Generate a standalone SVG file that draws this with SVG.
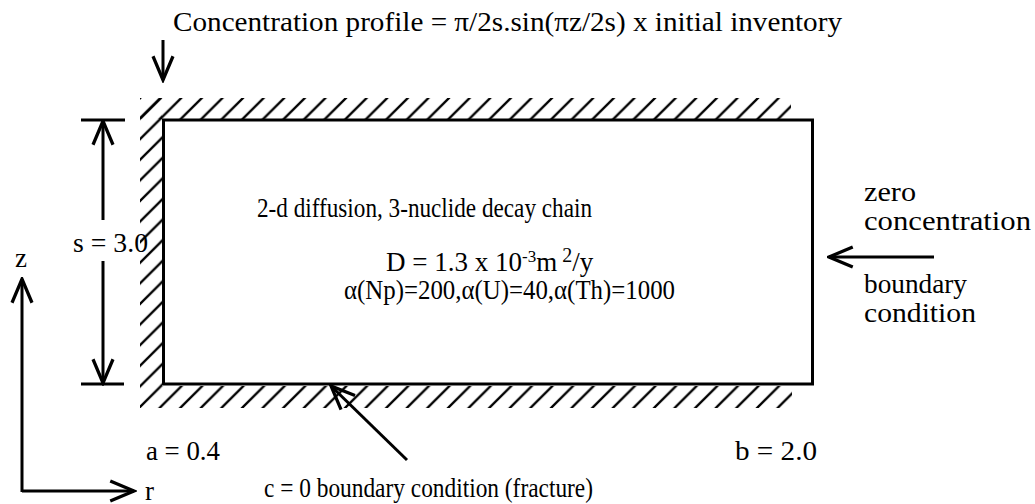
<svg xmlns="http://www.w3.org/2000/svg" width="1035" height="504" viewBox="0 0 1035 504">
<style>
text{font-family:"Liberation Serif","Times New Roman",serif;font-size:27px;fill:#000}
.ln{stroke:#000;stroke-width:3;fill:none}
.ar{stroke:#000;stroke-width:3;fill:none;marker-end:url(#v)}
.hatch{fill:url(#hp);stroke:none}
</style>
<defs>
<marker id="v" markerUnits="userSpaceOnUse" markerWidth="30" markerHeight="30" viewBox="-22 -11 24 22" refX="0" refY="0" orient="auto">
<path d="M-19,-8 L0,0 L-19,8" stroke="#000" stroke-width="2.6" fill="none"/>
</marker>
<pattern id="hp" patternUnits="userSpaceOnUse" x="140" y="98" width="20.6" height="20.6">
<path d="M-4,4 L4,-4 M0,20.6 L20.6,0 M16.6,24.6 L24.6,16.6" stroke="#000" stroke-width="2.3"/>
</pattern>
</defs>
<rect width="1035" height="504" fill="#fff"/>
<g id="hatching">
<rect class="hatch" x="140" y="98" width="651" height="21"/>
<rect class="hatch" x="140" y="98" width="22" height="288"/>
<rect class="hatch" x="140" y="386" width="652" height="22"/>
</g>
<g id="domain">
<rect x="163.5" y="120" width="649" height="264" class="ln"/>
<text x="257" y="217" textLength="335" lengthAdjust="spacingAndGlyphs">2-d diffusion, 3-nuclide decay chain</text>
<text x="386" y="271">D = 1.3 x 10<tspan dy="-9" font-size="17">-3</tspan><tspan dy="9">m</tspan><tspan dy="-9" font-size="20"> 2</tspan><tspan dy="9">/y</tspan></text>
<text x="344" y="299" textLength="331" lengthAdjust="spacingAndGlyphs">α(Np)=200,α(U)=40,α(Th)=1000</text>
</g>
<g id="top-label">
<text x="173" y="31" textLength="669" lengthAdjust="spacingAndGlyphs">Concentration profile = π/2s.sin(πz/2s) x initial inventory</text>
</g>
<g id="dimension">
<line x1="81" y1="120" x2="125" y2="120" class="ln"/>
<line x1="81" y1="384" x2="124" y2="384" class="ln"/>
<text x="73" y="252" textLength="75" lengthAdjust="spacingAndGlyphs">s = 3.0</text>
</g>
<g id="right-label">
<text x="864" y="201" textLength="52" lengthAdjust="spacingAndGlyphs">zero</text>
<text x="864" y="230" textLength="167" lengthAdjust="spacingAndGlyphs">concentration</text>
<text x="864" y="293" textLength="103" lengthAdjust="spacingAndGlyphs">boundary</text>
<text x="864" y="322" textLength="112" lengthAdjust="spacingAndGlyphs">condition</text>
</g>
<g id="bottom-labels">
<text x="146" y="460" textLength="74" lengthAdjust="spacingAndGlyphs">a = 0.4</text>
<text x="735" y="460" textLength="82" lengthAdjust="spacingAndGlyphs">b = 2.0</text>
<text x="264" y="497" textLength="329" lengthAdjust="spacingAndGlyphs">c = 0 boundary condition (fracture)</text>
</g>
<g id="axes">
<text x="15" y="267">z</text>
<text x="145" y="500">r</text>
</g>
<g id="connectors">
<line x1="163" y1="40" x2="163" y2="80" class="ar"/>
<line x1="103" y1="220" x2="103" y2="121" class="ar"/>
<line x1="103" y1="261" x2="103" y2="383" class="ar"/>
<line x1="934" y1="257" x2="829" y2="257" class="ar"/>
<line x1="407" y1="460" x2="331" y2="386" class="ar"/>
<polyline points="22,492 22,279" class="ar"/>
<line x1="22" y1="491" x2="134" y2="491" class="ar"/>
</g>
</svg>
